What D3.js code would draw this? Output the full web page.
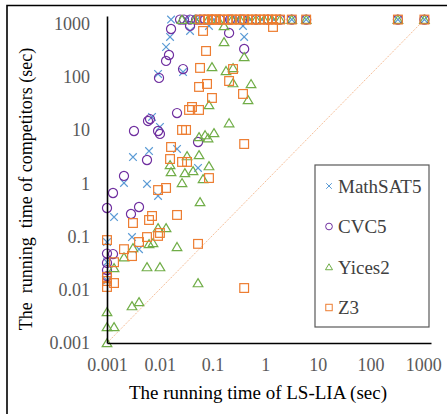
<!DOCTYPE html>
<html><head><meta charset="utf-8">
<script src="https://cdn.jsdelivr.net/npm/d3@7"></script>
<style>body{margin:0;background:#fff} svg{display:block}</style>
</head><body>
<svg id="chart" width="447" height="414"></svg>
<script>
// ---------- data ----------
const tickValues = [0.001, 0.01, 0.1, 1, 10, 100, 1000];
const tickLabels = ["0.001", "0.01", "0.1", "1", "10", "100", "1000"];
const seriesNames = ["MathSAT5", "CVC5", "Yices2", "Z3"];
const TIMEOUT = 1200;
const diagonal = [[0.001, 0.001], [1050, 1200]];

const mathsat5Points = [[0.0376,733],[0.0157,565],[0.0132,366],[0.0093,114],[0.0277,124],[0.00715,17.7],[0.0101,11.5],[0.00311,3.13],[0.00627,4.06],[0.0213,4.43],[0.0533,1.95],[0.0021,1.02],[0.00574,0.975],[0.0093,0.58],[0.086,910],[0.38,910],[0.40,565],[0.00136,0.233],[0.00298,0.098],[0.00405,0.058],[0.001,0.079],[0.001,0.033],[0.001,0.015]];
const mathsat5Timeouts = [0.0164,0.0316,0.051,0.107,0.181,0.306,0.516,0.87,1.47,3.2,6,330,1050];

const cvc5Points = [[0.0376,910],[0.0164,798],[0.015,259],[0.0132,200],[0.0097,96],[0.0277,141],[0.00655,16.2],[0.006,14.9],[0.0213,21],[0.00325,9.66],[0.0093,9.66],[0.0101,8.5],[0.0533,6.0],[0.00574,2.75],[0.0021,1.38],[0.0013,0.66],[0.207,672],[0.40,336],[0.001,0.345],[0.00285,0.266],[0.00405,0.36],[0.0013,0.047],[0.001,0.048],[0.001,0.032],[0.001,0.0235],[0.001,0.018]];
const cvc5Timeouts = [0.0243,0.0289,0.0376,0.049,0.0582,0.0725,0.098,0.139,0.216,0.365,0.671,1.13,1.92,3.2,6,330,1050];

const yices2Points = [[0.166,910],[0.166,455],[0.40,238],[0.098,154],[0.181,130],[0.246,148],[0.246,77],[0.54,74],[0.474,37],[0.086,29.8],[0.207,13.6],[0.107,8.85],[0.0725,8.1],[0.0557,7.45],[0.0826,7.1],[0.0557,3.42],[0.033,3.27],[0.086,2.12],[0.0157,2.22],[0.0164,1.64],[0.030,1.57],[0.0429,1.71],[0.0664,1.21],[0.0265,1.02],[0.0582,0.447],[0.0093,0.145],[0.0132,0.145],[0.00746,0.076],[0.00627,0.0726],[0.00311,0.061],[0.0021,0.041],[0.00136,0.0257],[0.00574,0.0268],[0.0101,0.0268],[0.0213,0.064],[0.0533,0.0134],[0.00298,0.00495],[0.00405,0.0059],[0.001,0.00383],[0.001,0.002],[0.00136,0.002],[0.001,0.001]];
const yices2Timeouts = [0.0265,0.0468,0.0826,0.128,0.236,0.334,0.474,0.671,0.953,1.35,1.92,3.2,6,330,1050];

const z3Points = [[0.0664,733],[1.41,871],[0.0757,308],[0.0582,148],[0.246,141],[0.079,74],[0.207,84],[0.0557,65],[0.098,40.3],[0.38,48],[0.041,27.3],[0.036,24],[0.0557,24],[0.0265,10.1],[0.0316,10.1],[0.40,5.5],[0.0164,4.83],[0.0157,2.87],[0.0265,2.53],[0.033,2.53],[0.086,1.26],[0.0093,0.75],[0.0132,0.82],[0.00715,0.244],[0.00627,0.205],[0.00311,0.18],[0.0213,0.255],[0.001,0.086],[0.0093,0.103],[0.0101,0.117],[0.00574,0.098],[0.00405,0.079],[0.0021,0.058],[0.00298,0.043],[0.00136,0.033],[0.0533,0.073],[0.001,0.0174],[0.00136,0.0134],[0.001,0.0113],[0.001,0.0146],[0.40,0.0108]];
const z3Timeouts = [0.0582,0.0693,0.0826,0.098,0.107,0.117,0.139,0.166,0.198,0.236,0.281,0.334,0.40,0.474,0.563,0.671,0.80,0.953,1.13,1.35,1.61,1.92,3.2,6,330,1050];

// ---------- drawing ----------
const colors = ["#5b9bd5", "#7030a0", "#70ad47", "#ed7d31"];
const shapes = ["times", "circle", "triangle", "square"];
const serif = "'Liberation Serif', 'Times New Roman', serif";
const allSeries = [
  {pts: mathsat5Points, to: mathsat5Timeouts},
  {pts: cvc5Points, to: cvc5Timeouts},
  {pts: yices2Points, to: yices2Timeouts},
  {pts: z3Points, to: z3Timeouts}
].map((s, i) => ({
  name: seriesNames[i], color: colors[i], shape: shapes[i],
  data: s.pts.concat(s.to.map(v => [v, TIMEOUT]))
}));

const svg = d3.select("#chart");
const x = d3.scaleLog().domain([0.001, 1400]).range([107, 431]);
const y = d3.scaleLog().domain([0.001, 1400]).range([343, 16]);

// outer frame (only top and left edges visible)
svg.append("path").attr("d", "M7,414V5.5H447").attr("fill", "none")
  .attr("stroke", "#000").attr("stroke-width", 1.6);

// diagonal
svg.append("path")
  .attr("d", d3.line().x(d => x(d[0])).y(d => y(d[1]))(diagonal))
  .attr("fill", "none").attr("stroke", "#f4b183").attr("stroke-width", 1)
  .attr("stroke-dasharray", "1.2,1.2");

function marker(g, shape, s) {
  if (shape === "times") {
    g.append("path").attr("d", `M${-s},${-s}L${s},${s}M${-s},${s}L${s},${-s}`);
  } else if (shape === "circle") {
    g.append("circle").attr("r", s * 1.2);
  } else if (shape === "triangle") {
    const h = s * 1.15;
    g.append("path").attr("d", `M0,${-h}L${h * 1.1},${h * 0.85}L${-h * 1.1},${h * 0.85}Z`);
  } else {
    const h = s * 1.15;
    g.append("rect").attr("x", -h).attr("y", -h).attr("width", 2 * h).attr("height", 2 * h);
  }
}

allSeries.forEach(s => {
  const g = svg.append("g").attr("fill", "none").attr("stroke", s.color).attr("stroke-width", 1.2);
  s.data.forEach(d => {
    const m = g.append("g").attr("transform", `translate(${x(d[0])},${y(d[1])})`);
    marker(m, s.shape, 3.8);
  });
});

// axes
const yAxis = d3.axisLeft(y).tickValues(tickValues).tickFormat((d, i) => tickLabels[i])
  .tickSize(0).tickSizeOuter(0).tickPadding(17);
const xAxis = d3.axisBottom(x).tickValues(tickValues).tickFormat((d, i) => tickLabels[i])
  .tickSize(0).tickSizeOuter(0).tickPadding(15);
const gy = svg.append("g").attr("transform", "translate(107,0)").call(yAxis);
const gx = svg.append("g").attr("transform", "translate(0,343)").call(xAxis);
[gx, gy].forEach(g => {
  g.attr("font-family", serif).attr("font-size", 18);
  g.select(".domain").attr("stroke", "#000").attr("stroke-width", 1.6);
  g.selectAll("text").attr("fill", "#595959");
});

// axis titles
svg.append("text").attr("x", 258).attr("y", 399).attr("text-anchor", "middle")
  .attr("font-family", serif).attr("font-size", 19).attr("fill", "#000")
  .text("The running time of LS-LIA (sec)");
svg.append("text").attr("transform", "translate(32,189) rotate(-90)").attr("text-anchor", "middle")
  .attr("font-family", serif).attr("font-size", 18).attr("fill", "#000")
  .style("white-space", "pre")
  .text("The  running  time of competitors (sec)");

// legend
const lg = svg.append("g");
lg.append("rect").attr("x", 315).attr("y", 165).attr("width", 114).attr("height", 162)
  .attr("fill", "#fff").attr("stroke", "#595959").attr("stroke-width", 1.2);
allSeries.forEach((s, i) => {
  const cy = 186 + i * 40.5;
  const m = lg.append("g").attr("transform", `translate(329,${cy})`)
    .attr("fill", "none").attr("stroke", s.color).attr("stroke-width", 1);
  marker(m, s.shape, 2.8);
  lg.append("text").attr("x", 338).attr("y", cy).attr("dy", "0.35em")
    .attr("font-family", serif).attr("font-size", 19).attr("fill", "#404040")
    .text(s.name);
});
</script>
</body></html>
